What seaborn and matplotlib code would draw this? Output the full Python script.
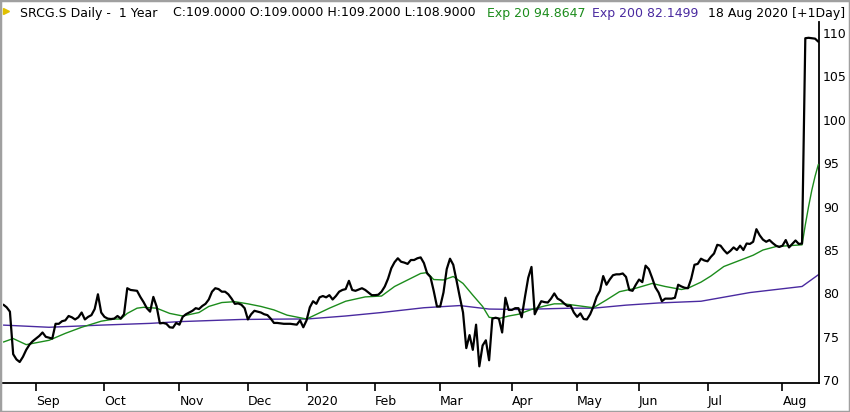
import matplotlib
matplotlib.use("Agg")
import matplotlib.pyplot as plt
from matplotlib.patches import Rectangle
from matplotlib.lines import Line2D
import seaborn as sns
import pandas as pd
import numpy as np

# SIX trading calendar: holidays in the window
HOLIDAYS = ["2019-12-24", "2019-12-25", "2019-12-26", "2019-12-31", "2020-01-01",
            "2020-01-02", "2020-04-10", "2020-04-13", "2020-05-01", "2020-05-21",
            "2020-06-01"]

# daily close, 19 Aug 2019 .. 18 Aug 2020
close = [
    78.7, 78.4, 77.9, 73.0, 72.4, 72.1, 72.7, 73.5, 74.1, 74.5,
    74.8, 75.1, 75.5, 75.0, 74.9, 74.8, 76.5, 76.5, 76.8, 76.9,
    77.4, 77.25, 77.0, 77.25, 77.8, 77.0, 77.3, 77.5, 78.2, 79.9,
    77.8, 77.3, 77.1, 77.05, 77.1, 77.4, 77.1, 77.6, 80.6, 80.4,
    80.35, 80.3, 79.6, 79.0, 78.3, 77.9, 79.6, 78.5, 76.55, 76.6,
    76.5, 76.1, 76.05, 76.6, 76.4, 77.3, 77.6, 77.8, 78.0, 78.3,
    78.2, 78.55, 78.8, 79.3, 80.2, 80.6, 80.5, 80.2, 80.2, 79.9,
    79.4, 78.8, 78.85, 78.7, 78.3, 77.0, 77.6, 78.0, 77.9, 77.8,
    77.6, 77.5, 77.1, 76.6, 76.6, 76.55, 76.5, 76.5, 76.5, 76.45,
    76.4, 76.9, 76.1, 76.9, 78.4, 79.1, 78.8, 79.55, 79.7, 79.55,
    79.8, 79.3, 79.7, 80.2, 80.4, 80.5, 81.45, 80.4, 80.3, 80.45,
    80.6, 80.4, 80.1, 79.8, 79.8, 79.85, 80.2, 80.8, 81.7, 82.9,
    83.6, 84.05, 83.65, 83.55, 83.4, 83.85, 83.85, 84.05, 84.15, 83.5,
    82.3, 81.9, 80.3, 78.5, 78.5, 80.1, 82.8, 84.0, 83.3, 81.5,
    79.6, 77.8, 73.7, 75.2, 73.5, 76.4, 71.6, 74.0, 74.6, 72.3,
    77.1, 77.2, 77.1, 75.5, 79.5, 78.1, 78.1, 78.3, 78.3, 77.25,
    79.6, 81.8, 83.05, 77.6, 78.4, 79.1, 79.0, 78.95, 79.4, 80.0,
    79.4, 79.2, 78.85, 78.55, 78.6, 77.8, 77.3, 77.7, 77.05, 77.0,
    77.6, 78.5, 79.6, 80.3, 82.0, 81.0, 81.6, 82.1, 82.2, 82.2,
    82.3, 81.9, 80.4, 80.3, 81.0, 81.6, 81.3, 83.2, 82.8, 81.8,
    80.7, 80.1, 79.1, 79.4, 79.4, 79.4, 79.5, 81.0, 80.8, 80.65,
    80.6, 81.7, 83.3, 83.4, 84.0, 83.8, 83.7, 84.2, 84.6, 85.6,
    85.5, 85.0, 84.6, 84.9, 85.3, 85.0, 85.5, 85.0, 85.75, 85.7,
    85.95, 87.4, 86.7, 86.2, 85.95, 86.15, 85.8, 85.5, 85.35, 85.5,
    86.15, 85.3, 85.7, 86.1, 85.7, 85.75, 109.4, 109.45, 109.4, 109.35,
    109.0,
]

# Exp 20
ema20_dates = [
    "2019-08-19", "2019-08-22", "2019-08-28", "2019-09-06", "2019-09-13", "2019-09-20",
    "2019-09-30", "2019-10-04", "2019-10-08", "2019-10-10", "2019-10-15", "2019-10-17",
    "2019-10-23", "2019-10-29", "2019-11-04", "2019-11-11", "2019-11-14", "2019-11-20",
    "2019-11-26", "2019-12-02", "2019-12-06", "2019-12-12", "2019-12-18", "2020-01-03",
    "2020-01-14", "2020-01-21", "2020-01-29", "2020-02-05", "2020-02-11", "2020-02-17",
    "2020-02-21", "2020-02-25", "2020-02-27", "2020-03-03", "2020-03-06", "2020-03-11",
    "2020-03-16", "2020-03-19", "2020-03-23", "2020-03-26", "2020-03-31", "2020-04-03",
    "2020-04-09", "2020-04-17", "2020-04-22", "2020-04-27", "2020-05-05", "2020-05-11",
    "2020-05-15", "2020-05-22", "2020-05-29", "2020-06-08", "2020-06-12", "2020-06-19",
    "2020-06-23", "2020-06-29", "2020-07-02", "2020-07-08", "2020-07-21", "2020-07-24",
    "2020-07-30", "2020-08-11", "2020-08-12", "2020-08-13", "2020-08-14", "2020-08-17",
    "2020-08-18",
]
ema20_vals = [
    74.4, 74.8, 74.1, 74.6, 75.4, 76.1, 76.8, 77.05, 77.05, 77.7, 78.3, 78.4,
    78.3, 77.7, 77.4, 77.8, 78.5, 78.95, 79.05, 78.8, 78.5, 78.1, 77.5, 77.05,
    78.3, 79.1, 79.6, 79.7, 80.8, 81.55, 82.3, 82.4, 81.6, 81.55, 81.95, 81.15,
    79.8, 78.5, 77.25, 77.1, 77.4, 77.6, 78.15, 78.55, 78.8, 78.8, 78.55, 78.35,
    79.25, 80.2, 80.6, 81.15, 80.8, 80.45, 80.6, 81.3, 82.0, 83.1, 84.4, 85.0,
    85.4, 85.6, 87.9, 90.0, 91.9, 93.5, 94.86,
]

# Exp 200
ema200_dates = [
    "2019-08-19", "2019-09-06", "2019-09-30", "2019-10-21", "2019-11-01", "2019-11-28",
    "2019-12-19", "2020-01-03", "2020-01-21", "2020-02-05", "2020-02-24", "2020-03-10",
    "2020-03-23", "2020-04-03", "2020-04-29", "2020-05-11", "2020-05-26", "2020-06-10",
    "2020-06-29", "2020-07-20", "2020-08-11", "2020-08-18",
]
ema200_vals = [
    76.35, 76.1, 76.35, 76.55, 76.75, 77.0, 77.05, 77.05, 77.4, 77.8, 78.35, 78.6,
    78.2, 78.15, 78.3, 78.3, 78.65, 78.9, 79.1, 80.1, 80.8, 82.15,
]

month_labels = ["Sep", "Oct", "Nov", "Dec", "2020", "Feb", "Mar", "Apr", "May",
                "Jun", "Jul", "Aug"]
y_ticks = [70, 75, 80, 85, 90, 95, 100, 105, 110]

GREEN = "#1c8c1c"
PURPLE = "#4a2aa0"

sns.set_theme(style="white")
plt.rcParams["font.family"] = ["DejaVu Sans"]
plt.rcParams["text.color"] = "black"
plt.rcParams["xtick.color"] = "black"
plt.rcParams["ytick.color"] = "black"

dates = pd.bdate_range("2019-08-19", "2020-08-18", freq="C", holidays=HOLIDAYS)
px = pd.DataFrame({"day": np.arange(len(dates)), "close": close}, index=dates)
e20 = pd.DataFrame({"day": dates.get_indexer(pd.to_datetime(ema20_dates)), "value": ema20_vals})
e200 = pd.DataFrame({"day": dates.get_indexer(pd.to_datetime(ema200_dates)), "value": ema200_vals})

fig = plt.figure(figsize=(8.5, 4.12), dpi=100)
ax = fig.add_axes([3.4 / 850, 1 - 383 / 412, (819 - 3.4) / 850, (383 - 22) / 412])

sns.lineplot(data=e200, x="day", y="value", color=PURPLE, lw=1.0, ax=ax, zorder=2)
sns.lineplot(data=e20, x="day", y="value", color=GREEN, lw=1.0, ax=ax, zorder=3)
sns.lineplot(data=px, x="day", y="close", color="black", lw=1.6, ax=ax, zorder=4)

ax.set_xlim(0, len(dates) - 0.8)
ax.set_ylim(69.68, 111.27)
ax.set_xlabel(None)
ax.set_ylabel(None)

# month ticks at first trading day of each month
firsts = px.groupby(dates.to_period("M"))["day"].min().iloc[1:]
ax.set_xticks(firsts.values)
ax.set_xticklabels(month_labels, fontsize=9, ha="left")
ax.tick_params(axis="x", direction="out", length=5.5, width=1.2, color="black", pad=3,
               bottom=True, labelcolor="black")

ax.yaxis.tick_right()
ax.set_yticks(y_ticks)
ax.set_yticklabels([str(v) for v in y_ticks], fontsize=9)
ax.tick_params(axis="y", length=0, pad=3, labelcolor="black")

for side in ["left", "top"]:
    ax.spines[side].set_visible(False)
for side in ["bottom", "right"]:
    ax.spines[side].set_color("black")
    ax.spines[side].set_linewidth(1.3)

# header line
hy = 1 - 13 / 412
fig.text(20 / 850, hy, "SRCG.S Daily -  1 Year", fontsize=9, va="center", color="black")
fig.text(173 / 850, hy, "C:109.0000 O:109.0000 H:109.2000 L:108.9000", fontsize=9,
         va="center", color="black")
fig.text(487 / 850, hy, "Exp 20 94.8647", fontsize=9, va="center", color=GREEN)
fig.text(592 / 850, hy, "Exp 200 82.1499", fontsize=9, va="center", color=PURPLE)
fig.text(708 / 850, hy, "18 Aug 2020 [+1Day]", fontsize=9, va="center", color="black")
fig.add_artist(Line2D([6 / 850], [1 - 11 / 412], marker=">", color="#e0c000",
                      markersize=4, transform=fig.transFigure))

fig.add_artist(Rectangle((0, 0), 1, 1, transform=fig.transFigure, fill=False,
                         edgecolor="#a0a0a0", lw=2.5))

fig.savefig("out.png", dpi=100)
